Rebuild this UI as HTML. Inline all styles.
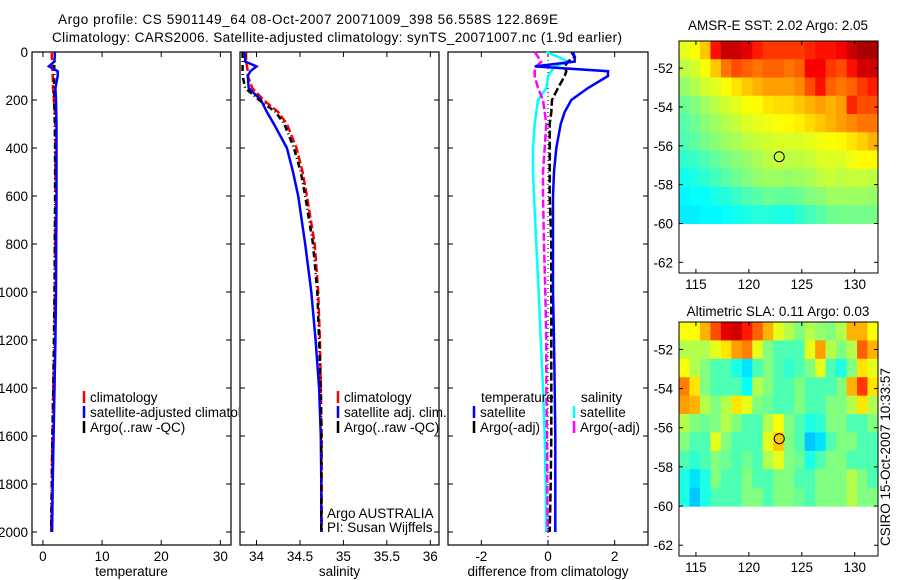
<!DOCTYPE html>
<html><head><meta charset="utf-8">
<style>
body{margin:0;background:#fff;}
svg{display:block;font-family:"Liberation Sans",sans-serif;}
text{font-size:13.5px;fill:#000;}
</style></head>
<body>
<svg id="fig" width="900" height="580" xmlns="http://www.w3.org/2000/svg">
<defs><clipPath id="c1"><rect x="32" y="52" width="207" height="493"/></clipPath></defs>
<text x="58" y="24" textLength="500">Argo profile: CS 5901149_64 08-Oct-2007 20071009_398 56.558S 122.869E</text>
<text x="52" y="42" textLength="570">Climatology: CARS2006. Satellite-adjusted climatology: synTS_20071007.nc (1.9d earlier)</text>
<text x="778" y="30" text-anchor="middle">AMSR-E SST: 2.02  Argo: 2.05</text>
<text x="778" y="316" text-anchor="middle">Altimetric SLA: 0.11  Argo: 0.03</text>
<text transform="translate(890,546) rotate(-90)">CSIRO 15-Oct-2007 10:33:57</text>
</svg>
<script>
// ---------- data ----------
const depths=[0,20,40,60,80,100,150,200,250,300,400,500,600,800,1000,1200,1400,1600,1800,2000];
const tempClim=[1.5,1.5,1.55,1.6,1.6,1.65,1.7,1.85,2.0,2.05,2.1,2.1,2.1,2.05,2.0,1.95,1.75,1.6,1.5,1.4];
const tempSat=[2.0,2.0,1.9,1.0,2.5,2.5,2.1,2.2,2.25,2.3,2.3,2.3,2.3,2.25,2.2,2.1,1.95,1.8,1.65,1.55];
const tempArgo=[2.0,2.0,2.0,1.9,1.9,1.9,1.85,1.9,1.95,2.0,2.05,2.05,2.05,2.0,1.95,1.85,1.75,1.6,1.5,1.4];
const salClim=[33.88,33.88,33.88,33.89,33.9,33.9,33.95,34.08,34.25,34.35,34.46,34.53,34.58,34.67,34.71,34.73,34.74,34.75,34.75,34.75];
const salSat=[33.87,33.87,33.87,34.0,33.93,33.9,33.91,34.05,34.12,34.2,34.35,34.42,34.48,34.56,34.63,34.68,34.72,34.74,34.745,34.745];
const salArgo=[33.84,33.84,33.84,33.84,33.84,33.84,33.87,34.03,34.22,34.32,34.43,34.51,34.56,34.65,34.7,34.72,34.74,34.745,34.745,34.745];
const dTempSat=[0.75,0.8,0.8,-0.4,1.8,1.8,1.2,0.7,0.5,0.38,0.25,0.18,0.15,0.15,0.15,0.18,0.2,0.22,0.22,0.22];
const dTempArgo=[0.7,0.8,0.6,0.5,0.55,0.5,0.3,0.12,0.1,0.05,0.05,0.05,0.05,0.1,0.1,0.1,0.1,0.1,0.08,0.05];
const dSalSat=[-0.05,0.3,0.6,0.2,0.1,0.0,-0.05,-0.3,-0.35,-0.4,-0.45,-0.45,-0.42,-0.35,-0.28,-0.22,-0.15,-0.1,-0.07,-0.05];
const dSalArgo=[-0.4,-0.3,-0.2,-0.35,-0.4,-0.4,-0.3,-0.15,-0.1,-0.05,-0.1,-0.15,-0.15,-0.12,-0.08,-0.05,-0.05,-0.03,-0.02,-0.01];
const depthTicks=[0,200,400,600,800,1000,1200,1400,1600,1800,2000];
const tempTicks=[0,10,20,30];
const salTicks=[34,34.5,35,35.5,36];
const diffTicks=[-2,0,2];
const mapLonTicks=[115,120,125,130];
const mapLatTicks=[-52,-54,-56,-58,-60,-62];
const sstGrid=[
[.60,.62,.68,.86,.93,.93,.90,.85,.82,.82,.82,.82,.84,.86,.86,.88,.93,.96,.96],
[.56,.58,.62,.68,.76,.80,.78,.76,.78,.78,.76,.78,.88,.88,.82,.80,.86,.92,.92],
[.52,.55,.58,.60,.62,.65,.68,.70,.72,.72,.72,.74,.80,.86,.78,.76,.78,.82,.85],
[.48,.50,.53,.56,.58,.60,.62,.63,.65,.66,.66,.68,.70,.72,.70,.72,.84,.80,.80],
[.46,.48,.51,.53,.55,.57,.59,.60,.61,.62,.63,.64,.66,.68,.70,.72,.74,.76,.76],
[.45,.47,.49,.51,.53,.54,.56,.57,.58,.59,.59,.59,.60,.61,.62,.63,.65,.67,.70],
[.42,.43,.45,.47,.49,.51,.52,.54,.56,.57,.56,.56,.57,.59,.59,.59,.61,.63,.63],
[.39,.40,.42,.44,.46,.48,.50,.52,.53,.53,.52,.53,.54,.56,.57,.56,.57,.57,.56],
[.37,.38,.38,.40,.41,.43,.45,.46,.48,.47,.47,.48,.50,.51,.53,.53,.53,.53,.52],
[.36,.36,.37,.37,.38,.39,.40,.41,.41,.40,.40,.42,.44,.46,.48,.49,.49,.49,.49]];
const slaGrid=[
[.62,.62,.70,.80,.90,.92,.85,.78,.70,.60,.55,.50,.55,.52,.50,.55,.70,.70,.62],
[.55,.55,.55,.60,.65,.72,.75,.60,.50,.45,.45,.45,.60,.72,.55,.50,.55,.78,.70],
[.62,.55,.50,.45,.45,.40,.35,.45,.50,.45,.42,.45,.50,.60,.45,.40,.50,.65,.60],
[.75,.65,.50,.45,.45,.45,.38,.55,.50,.45,.45,.50,.45,.45,.45,.50,.70,.82,.65],
[.72,.70,.55,.50,.55,.65,.60,.50,.48,.45,.45,.50,.45,.45,.50,.50,.55,.65,.55],
[.55,.50,.48,.50,.55,.50,.45,.45,.55,.62,.50,.45,.40,.42,.50,.50,.45,.45,.50],
[.50,.45,.45,.60,.50,.45,.45,.45,.60,.68,.50,.45,.32,.35,.45,.50,.50,.45,.45],
[.45,.42,.45,.50,.48,.45,.48,.45,.55,.60,.50,.48,.40,.45,.50,.50,.45,.45,.45],
[.40,.35,.40,.50,.45,.45,.50,.45,.45,.50,.50,.45,.45,.50,.50,.50,.55,.50,.45],
[.40,.32,.40,.45,.45,.45,.50,.50,.45,.50,.50,.48,.45,.50,.50,.50,.55,.50,.50]];
const floatLon=122.87, floatLat=-56.56;

// ---------- helpers ----------
const NS="http://www.w3.org/2000/svg";
const svg=document.getElementById('fig');
function mk(tag,attrs,parent){const e=document.createElementNS(NS,tag);for(const k in attrs)e.setAttribute(k,attrs[k]);(parent||svg).appendChild(e);return e;}
const yD=d=>52+d*(480/2000);
const PT=52,PB=545;

function panel(name,x0,x1,xmin,xmax,ticks,fmt,xlabel,showY){
  const xs=v=>x0+(v-xmin)/(xmax-xmin)*(x1-x0);
  const g=mk('g',{});
  
  
  const r=mk('rect',{x:x0,y:PT,width:x1-x0,height:PB-PT,fill:'none',stroke:'#000','stroke-width':1.2},g);
  
  
  ticks.forEach(t=>{const x=xs(t);
    mk('line',{x1:x,x2:x,y1:PT,y2:PT+5,stroke:'#000'},g);
    mk('line',{x1:x,x2:x,y1:PB,y2:PB-5,stroke:'#000'},g);
    const tx=mk('text',{x:x,y:PB+16,'text-anchor':'middle'},g);tx.textContent=fmt(t);
    
    
  });
  depthTicks.forEach(d=>{const y=yD(d);
    mk('line',{x1:x0,x2:x0+5,y1:y,y2:y,stroke:'#000'},g);
    mk('line',{x1:x1,x2:x1-5,y1:y,y2:y,stroke:'#000'},g);
    if(showY){const tx=mk('text',{x:x0-4,y:y+5,'text-anchor':'end'},g);tx.textContent=d;
      
      }
  });
  const xl=mk('text',{x:(x0+x1)/2,y:576,'text-anchor':'middle'},g);xl.textContent=xlabel;
  
  
  return {xs,g};
}
function series(p,vals,color,w,dash,name){
  const pts=vals.map((v,i)=>p.xs(v).toFixed(1)+','+yD(depths[i]).toFixed(1)).join(' ');
  const l=mk('polyline',{points:pts,fill:'none',stroke:color,'stroke-width':w},p.g);
  if(dash)l.setAttribute('stroke-dasharray',dash);
  
  
}
function legend(p,x,y,items,clip){
  items.forEach((it,i)=>{
    const yy=y+i*15;
    mk('line',{x1:x,x2:x,y1:yy-11,y2:yy+1,stroke:it[1],'stroke-width':2.5},p.g);
    const t=mk('text',{x:x+6,y:yy},p.g);t.textContent=it[0];
    if(clip)t.setAttribute('clip-path','url(#c1)');
    
    
  });
}

// temperature panel
const p1=panel('temperature-panel',32,231,-1.85,31.8,tempTicks,v=>v,'temperature',true);
series(p1,tempClim,'#f00',2.5,'8,3','temp-climatology-line');
series(p1,tempArgo,'#000',2.5,'6,3,1,3','temp-argo-line');
series(p1,tempSat,'#00f',2.5,null,'temp-satellite-line');
legend(p1,84,402,[['climatology','#f00'],['satellite-adjusted climatology','#00f'],['Argo(..raw -QC)','#000']],true);
// salinity panel
const p2=panel('salinity-panel',240,439,33.81,36.1,salTicks,v=>v,'salinity',false);
series(p2,salClim,'#f00',2.5,'8,3','sal-climatology-line');
series(p2,salSat,'#00f',2.5,null,'sal-satellite-line');
series(p2,salArgo,'#000',2.5,'6,3,1,3','sal-argo-line');
legend(p2,338,402,[['climatology','#f00'],['satellite adj. clim.','#00f'],['Argo(..raw -QC)','#000']]);
{const t=mk('text',{x:327,y:518},p2.g);t.textContent='Argo AUSTRALIA';
 const t2=mk('text',{x:327,y:532},p2.g);t2.textContent='PI: Susan Wijffels';}
// difference panel
const p3=panel('difference-panel',448,648,-3,3,diffTicks,v=>v,'difference from climatology',false);
mk('line',{x1:p3.xs(0),x2:p3.xs(0),y1:PT,y2:PB,stroke:'#000','stroke-dasharray':'1,3'},p3.g);
series(p3,dSalSat,'#0ff',2.5,null,'diff-sal-satellite-line');
series(p3,dSalArgo,'#f0f',2.5,'8,3','diff-sal-argo-line');
series(p3,dTempArgo,'#000',2.5,'8,3','diff-temp-argo-line');
series(p3,dTempSat,'#00f',2.5,null,'diff-temp-satellite-line');
{const t=mk('text',{x:481,y:402},p3.g);t.textContent='temperature';
 const t2=mk('text',{x:581,y:402},p3.g);t2.textContent='salinity';}
legend(p3,474,417,[['satellite','#00f'],['Argo(-adj)','#000']]);
legend(p3,574,417,[['satellite','#0ff'],['Argo(-adj)','#f0f']]);

// maps
function jet(v){
  const r=Math.max(0,Math.min(1,1.5-Math.abs(4*v-3)));
  const g=Math.max(0,Math.min(1,1.5-Math.abs(4*v-2)));
  const b=Math.max(0,Math.min(1,1.5-Math.abs(4*v-1)));
  return `rgb(${Math.round(r*255)},${Math.round(g*255)},${Math.round(b*255)})`;
}
function map(name,top,bottom,grid){
  const x0=679,x1=878,lon0=113.4,lon1=132.2,lat0=-50.6,lat1=-62.55;
  const xs=l=>x0+(l-lon0)/(lon1-lon0)*(x1-x0);
  const ys=l=>top+(l-lat0)/(lat1-lat0)*(bottom-top);
  const g=mk('g',{});
  
  
  const nr=grid.length,nc=grid[0].length;
  const cw=(lon1-lon0)/nc, ch=(-60-lat0)/nr;
  grid.forEach((row,i)=>row.forEach((v,j)=>{
    const xa=xs(lon0+j*cw),xb=xs(lon0+(j+1)*cw),ya=ys(lat0+i*ch),yb=ys(lat0+(i+1)*ch);
    const c=mk('rect',{x:xa.toFixed(2),y:ya.toFixed(2),width:(xb-xa+0.6).toFixed(2),height:(yb-ya+0.6).toFixed(2),fill:jet(v)},g);
    
    
  }));
  const f=mk('rect',{x:x0,y:top,width:x1-x0,height:bottom-top,fill:'none',stroke:'#000'},g);
  
  
  mapLonTicks.forEach(l=>{const x=xs(l);
    mk('line',{x1:x,x2:x,y1:top,y2:top+4,stroke:'#000'},g);
    mk('line',{x1:x,x2:x,y1:bottom,y2:bottom-4,stroke:'#000'},g);
    const t=mk('text',{x:x,y:bottom+16,'text-anchor':'middle'},g);t.textContent=l;
    
    
  });
  mapLatTicks.forEach(l=>{const y=ys(l);
    mk('line',{x1:x0,x2:x0+4,y1:y,y2:y,stroke:'#000'},g);
    mk('line',{x1:x1,x2:x1-4,y1:y,y2:y,stroke:'#000'},g);
    const t=mk('text',{x:x0-6,y:y+5,'text-anchor':'end'},g);t.textContent=l;
    
    
  });
  const c=mk('circle',{cx:xs(floatLon),cy:ys(floatLat),r:5,fill:'none',stroke:'#000'},g);
  
  
}
map('sst-map',41,273,sstGrid);
map('sla-map',322,556,slaGrid);
</script>
</body></html>
